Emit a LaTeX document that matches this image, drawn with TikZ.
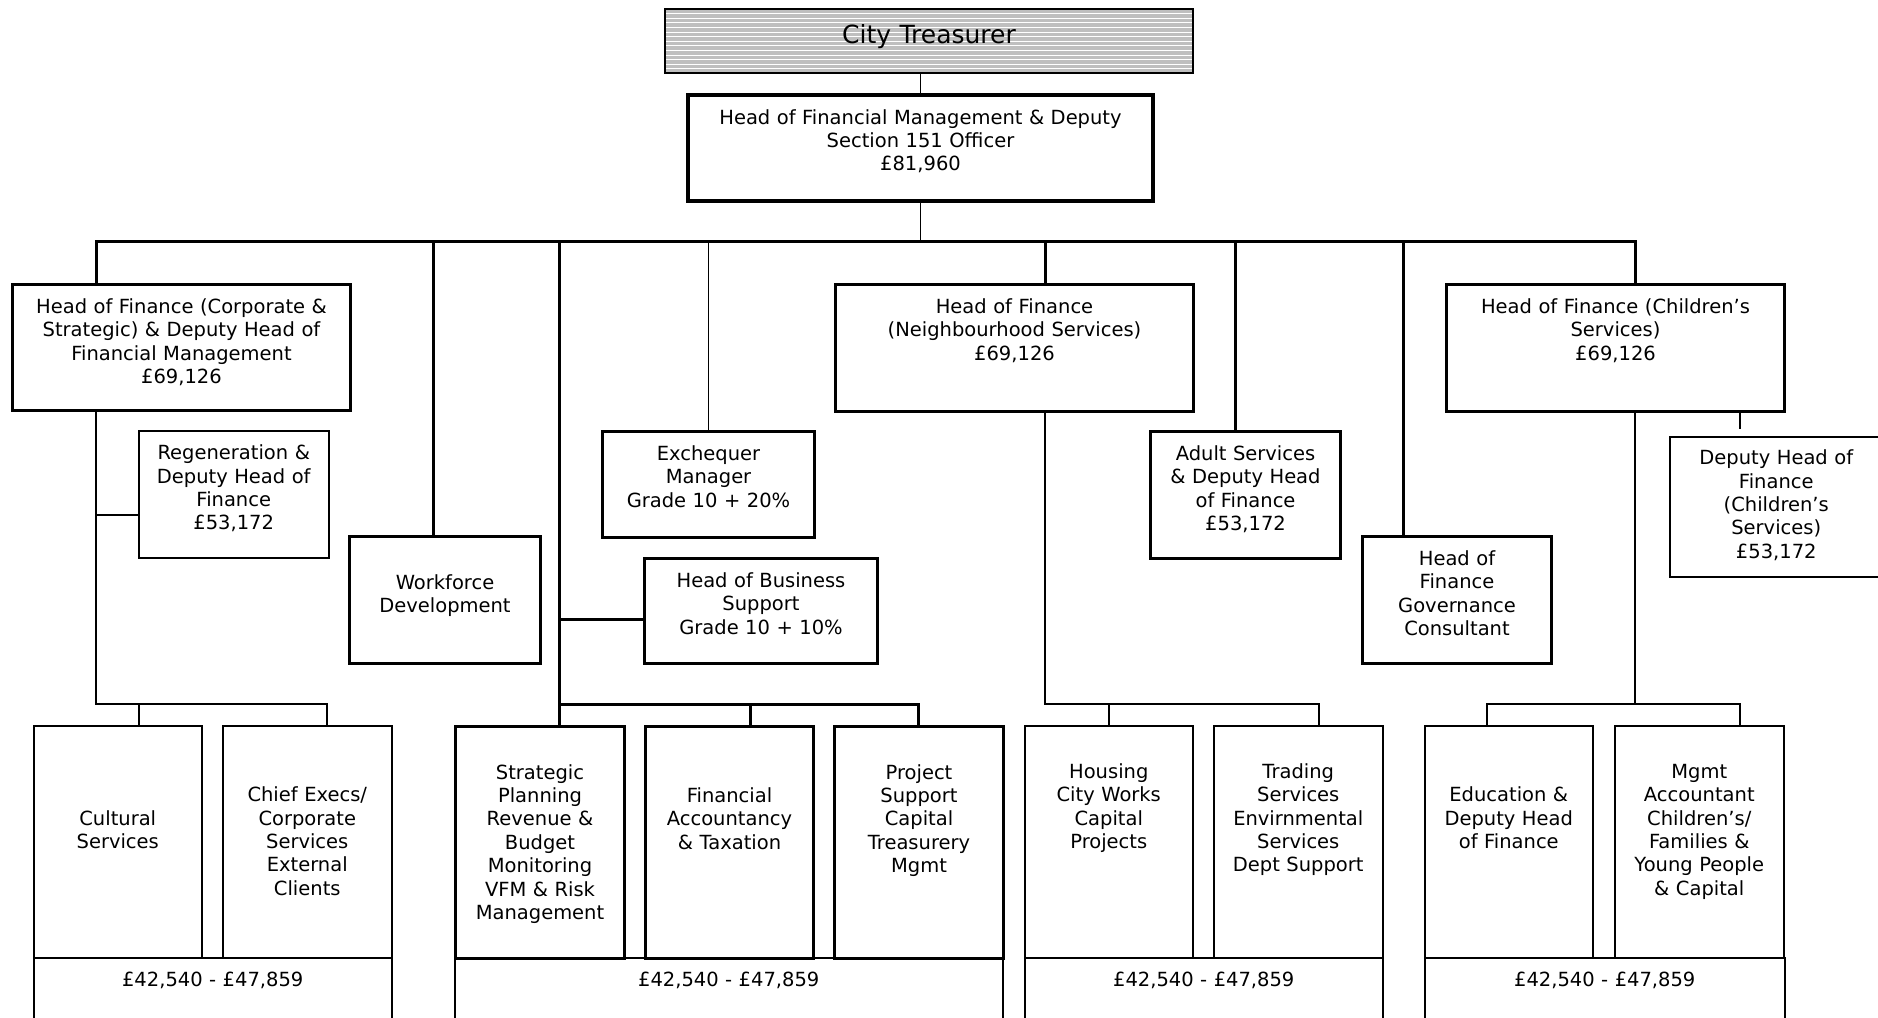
\documentclass[tikz,border=0pt]{standalone}
\usepackage{fontspec}
\setmainfont{DejaVu Sans}
\usepackage{tikz}

\begin{document}
\begin{tikzpicture}[
    x=1pt, y=-1pt,
    rolebox/.style={draw, anchor=north west, inner sep=0pt, align=center,
      font=\fontsize{19.5}{23.4}\selectfont, text height=29pt},
    keybox/.style={rolebox, line width=3pt},
    plainbox/.style={rolebox, line width=1.5pt},
    paybox/.style={plainbox, text depth=54pt},
    trunk/.style={line width=3pt},
    link/.style={line width=1.5pt}
  ]
  \useasboundingbox (0,0) rectangle (1878,1017);
  \clip (0,0) rectangle (1878,1017);

  % top of the chart
  \node[rolebox, line width=2pt, fill=gray!50, text width=528pt,
    text height=34.5pt, text depth=29.5pt, font=\fontsize{25}{30}\selectfont,
    path picture={\foreach \k in {1,...,13}
      \draw[white, line width=0.8pt]
        ([yshift=-\k*4.6pt]path picture bounding box.north west)
        -- ([yshift=-\k*4.6pt]path picture bounding box.north east);}]
    (ct) at (664,8) {City Treasurer};
  \node[keybox, line width=4pt, text width=465pt, text depth=77pt] (hfm) at (686,93)
    {Head of Financial Management \& Deputy\\Section 151 Officer\\£81,960};
  \draw[link] (hfm.north) -- (hfm.north |- ct.south);
  \coordinate (bus) at (918,241);
  \draw[link] (hfm.south) -- (hfm.south |- bus);

  % heads of finance
  \node[keybox, text width=338pt, text depth=97pt] (corp) at (11,283)
    {Head of Finance (Corporate \&\\Strategic) \& Deputy Head of\\Financial Management\\£69,126};
  \node[keybox, text width=358pt, text depth=98pt] (neigh) at (834,283)
    {Head of Finance\\(Neighbourhood Services)\\£69,126};
  \node[keybox, text width=338pt, text depth=98pt] (child) at (1445,283)
    {Head of Finance (Children’s\\Services)\\£69,126};

  \node[plainbox, text width=190pt, text depth=98pt] (regen) at (138,430)
    {Regeneration \&\\Deputy Head of\\Finance\\£53,172};
  \node[keybox, text width=212pt, text depth=77pt] (exch) at (601,430)
    {Exchequer\\Manager\\Grade 10 + 20\%};
  \node[keybox, text width=190pt, text depth=98pt] (adult) at (1149,430)
    {Adult Services\\\& Deputy Head\\of Finance\\£53,172};
  \node[plainbox, text width=213pt, text height=28pt, text depth=112pt] (dchild) at (1669,436)
    {Deputy Head of\\Finance\\(Children’s\\Services)\\£53,172};

  \node[keybox, text width=191pt, text height=52.5pt, text depth=74.5pt] (wfd) at (348,535)
    {Workforce\\Development};
  \node[keybox, text width=233pt, text depth=76pt] (hbs) at (643,557)
    {Head of Business\\Support\\Grade 10 + 10\%};
  \node[keybox, text width=189pt, text depth=98pt] (gov) at (1361,535)
    {Head of\\Finance\\Governance\\Consultant};

  % teams
  \node[plainbox, text width=168pt, text height=99.5pt, text depth=132.5pt] (cult) at (33,725)
    {Cultural\\Services};
  \node[plainbox, text width=169pt, text height=76pt, text depth=156pt] (chief) at (222,725)
    {Chief Execs/\\Corporate\\Services\\External\\Clients};
  \node[keybox, text width=169pt, text height=52.5pt, text depth=179.5pt] (strat) at (454,725)
    {Strategic\\Planning\\Revenue \&\\Budget\\Monitoring\\VFM \& Risk\\Management};
  \node[keybox, text width=168pt, text height=76pt, text depth=156pt] (facc) at (644,725)
    {Financial\\Accountancy\\\& Taxation};
  \node[keybox, text width=169pt, text height=52.5pt, text depth=179.5pt] (proj) at (833,725)
    {Project\\Support\\Capital\\Treasurery\\Mgmt};
  \node[plainbox, text width=168pt, text height=52.5pt, text depth=179.5pt] (hous) at (1024,725)
    {Housing\\City Works\\Capital\\Projects};
  \node[plainbox, text width=169pt, text height=52.5pt, text depth=179.5pt] (trad) at (1213,725)
    {Trading\\Services\\Envirnmental\\Services\\Dept Support};
  \node[plainbox, text width=168pt, text height=76pt, text depth=156pt] (edu) at (1424,725)
    {Education \&\\Deputy Head\\of Finance};
  \node[plainbox, text width=169pt, text height=52.5pt, text depth=179.5pt] (mgmt) at (1614,725)
    {Mgmt\\Accountant\\Children’s/\\Families \&\\Young People\\\& Capital};

  % salary bands
  \node[paybox, text width=358pt] (pay1) at (33,957) {£42,540 - £47,859};
  \node[paybox, text width=548pt] (pay2) at (454,957) {£42,540 - £47,859};
  \node[paybox, text width=358pt] (pay3) at (1024,957) {£42,540 - £47,859};
  \node[paybox, text width=360pt] (pay4) at (1424,957) {£42,540 - £47,859};

  % main bus
  \draw[trunk] (corp.north -| 96,0) |- (bus) -| (child.north -| 1635,0);
  \draw[trunk] (bus -| 433,0) -- (wfd.north -| 433,0);
  \draw[link] (bus -| exch.north) -- (exch.north);
  \draw[trunk] (bus -| 1045,0) -- (neigh.north -| 1045,0);
  \draw[trunk] (bus -| 1235,0) -- (adult.north -| 1235,0);
  \draw[trunk] (bus -| 1403,0) -- (gov.north -| 1403,0);

  % corporate & strategic
  \coordinate (lspine) at (96,704);
  \draw[link] (corp.south -| lspine) -- (lspine) -| (chief.north -| 327,0);
  \draw[link] (regen.west |- 0,515) -- (lspine |- 0,515);
  \draw[link] (lspine -| 139,0) -- (cult.north -| 139,0);

  % business support & accountancy
  \coordinate (mspine) at (559,704);
  \draw[trunk] (bus -| mspine) -- (strat.north -| mspine);
  \draw[trunk] (hbs.west |- 0,619) -- (mspine |- 0,619);
  \draw[trunk] (mspine) -| (proj.north -| 918,0);
  \draw[trunk] (mspine -| 750,0) -- (facc.north -| 750,0);

  % neighbourhood services
  \coordinate (nspine) at (1045,704);
  \draw[link] (neigh.south -| nspine) -- (nspine) -| (trad.north -| 1319,0);
  \draw[link] (nspine -| hous.north) -- (hous.north);

  % children's services
  \coordinate (cspine) at (1635,704);
  \draw[link] (child.south -| cspine) -- (cspine);
  \draw[link] (edu.north -| 1487,0) |- (cspine) -| (mgmt.north -| 1740,0);
  \coordinate (dtick) at (1740,429);
  \draw[link] (child.south -| dtick) -- (dtick);
\end{tikzpicture}
\end{document}
